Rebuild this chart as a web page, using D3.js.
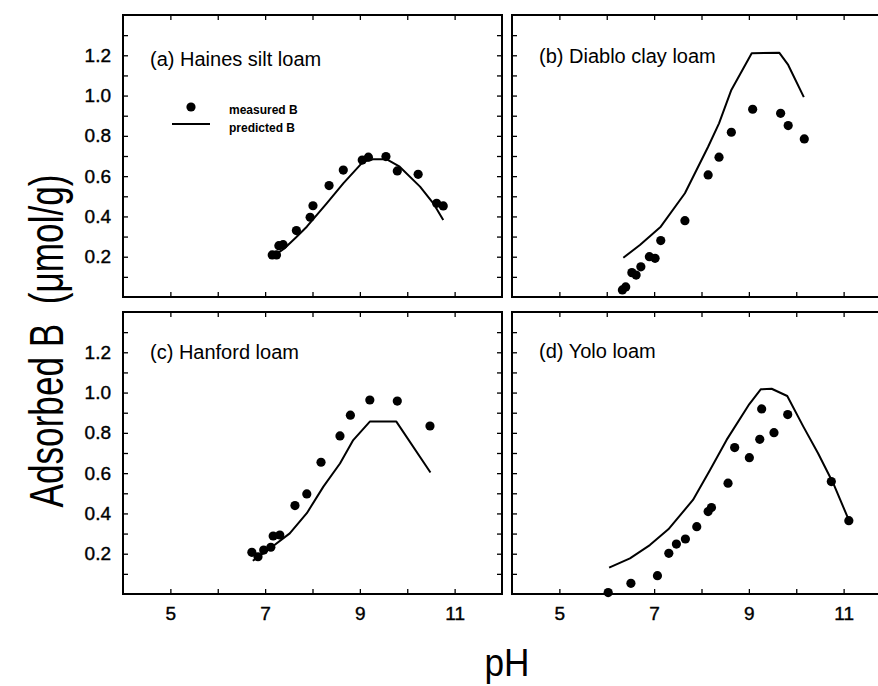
<!DOCTYPE html>
<html>
<head>
<meta charset="utf-8">
<script src="https://cdn.jsdelivr.net/npm/d3@7"></script>
<style>
  body { margin: 0; background: #fff; }
  svg { display: block; font-family: "Liberation Sans", Arial, sans-serif; }
</style>
</head>
<body>
<script>
// boron adsorption vs pH, four soils

// (a) Haines silt loam
var phMeasA = [7.15, 7.24, 7.29, 7.38, 7.66, 7.95, 8.01, 8.35, 8.65, 9.05, 9.18, 9.55, 9.79, 10.23, 10.62, 10.76];
var bMeasA  = [0.209, 0.209, 0.255, 0.26, 0.33, 0.396, 0.453, 0.553, 0.63, 0.68, 0.694, 0.697, 0.626, 0.609, 0.465, 0.452];
var phPredA = [7.14, 7.40, 7.65, 7.88, 8.30, 8.65, 9.07, 9.28, 9.56, 9.84, 10.27, 10.55, 10.76];
var bPredA  = [0.197, 0.24, 0.295, 0.349, 0.465, 0.564, 0.672, 0.684, 0.684, 0.647, 0.548, 0.465, 0.382];

// (b) Diablo clay loam
var phMeasB = [6.33, 6.40, 6.53, 6.62, 6.72, 6.90, 7.02, 7.14, 7.65, 8.14, 8.37, 8.63, 9.08, 9.67, 9.83, 10.17];
var bMeasB  = [0.035, 0.05, 0.121, 0.109, 0.150, 0.200, 0.192, 0.280, 0.379, 0.606, 0.694, 0.818, 0.932, 0.912, 0.851, 0.785];
var phPredB = [6.35, 6.70, 7.14, 7.65, 8.14, 8.37, 8.63, 9.06, 9.64, 9.83, 10.16];
var bPredB  = [0.195, 0.258, 0.349, 0.515, 0.746, 0.862, 1.028, 1.210, 1.213, 1.152, 0.992];

// (c) Hanford loam
var phMeasC = [6.72, 6.85, 6.97, 7.12, 7.17, 7.31, 7.63, 7.88, 8.18, 8.58, 8.80, 9.21, 9.79, 10.48];
var bMeasC  = [0.207, 0.185, 0.218, 0.232, 0.288, 0.293, 0.439, 0.497, 0.654, 0.785, 0.888, 0.963, 0.958, 0.834];
var phPredC = [6.74, 7.17, 7.52, 7.88, 8.23, 8.58, 8.86, 9.21, 9.77, 10.49];
var bPredC  = [0.165, 0.238, 0.301, 0.401, 0.533, 0.648, 0.764, 0.856, 0.856, 0.603];

// (d) Yolo loam
var phMeasD = [6.03, 6.51, 7.07, 7.31, 7.47, 7.66, 7.90, 8.14, 8.21, 8.56, 8.70, 9.01, 9.23, 9.27, 9.53, 9.82, 10.74, 11.11];
var bMeasD  = [0.007, 0.053, 0.091, 0.202, 0.248, 0.273, 0.334, 0.409, 0.429, 0.550, 0.727, 0.677, 0.768, 0.919, 0.801, 0.891, 0.558, 0.364];
var phPredD = [6.05, 6.49, 6.91, 7.30, 7.82, 8.18, 8.53, 9.01, 9.25, 9.48, 9.81, 10.15, 10.46, 10.78, 11.11];
var bPredD  = [0.131, 0.177, 0.243, 0.321, 0.467, 0.616, 0.765, 0.943, 1.016, 1.019, 0.983, 0.831, 0.699, 0.550, 0.367];

var titles = ["(a) Haines silt loam", "(b) Diablo clay loam", "(c) Hanford loam", "(d) Yolo loam"];
var xTicks = [5, 6, 7, 8, 9, 10, 11];
var xLabelTicks = [5, 7, 9, 11];
var yTicks = [0.1, 0.2, 0.3, 0.4, 0.5, 0.6, 0.7, 0.8, 0.9, 1.0, 1.1, 1.2, 1.3];
var yLabelTicks = [0.2, 0.4, 0.6, 0.8, 1.0, 1.2];
var legendLabels = ["measured B", "predicted B"];

var width = 878, height = 686;

var svg = d3.select("body").append("svg")
    .attr("width", width)
    .attr("height", height);

// columns and rows (pixel extents of the frames)
var cols = [[123, 502], [512, 891]];
var rows = [[297, 15], [594, 312]];

var panels = [
  {ph: phMeasA, b: bMeasA, php: phPredA, bp: bPredA, col: 0, row: 0, title: titles[0], ty: 51},
  {ph: phMeasB, b: bMeasB, php: phPredB, bp: bPredB, col: 1, row: 0, title: titles[1], ty: 48},
  {ph: phMeasC, b: bMeasC, php: phPredC, bp: bPredC, col: 0, row: 1, title: titles[2], ty: 47},
  {ph: phMeasD, b: bMeasD, php: phPredD, bp: bPredD, col: 1, row: 1, title: titles[3], ty: 46}
];

panels.forEach(function(p) {
  var x = d3.scaleLinear().domain([4, 12]).range(cols[p.col]);
  var y = d3.scaleLinear().domain([0, 1.4]).range(rows[p.row]);
  var x0 = cols[p.col][0], x1 = cols[p.col][1];
  var y0 = rows[p.row][1], y1 = rows[p.row][0];

  var g = svg.append("g");

  // inward ticks on all four sides
  g.append("g")
      .attr("transform", "translate(0," + y1 + ")")
      .call(d3.axisBottom(x).tickValues(xTicks).tickSizeInner(-5).tickSizeOuter(0)
        .tickPadding(13)
        .tickFormat(function(d) {
          return (p.row == 1 && xLabelTicks.indexOf(d) >= 0) ? d : "";
        }));
  g.append("g")
      .attr("transform", "translate(0," + y0 + ")")
      .call(d3.axisTop(x).tickValues(xTicks).tickSizeInner(-5).tickSizeOuter(0).tickFormat(""));
  g.append("g")
      .attr("transform", "translate(" + x0 + ",0)")
      .call(d3.axisLeft(y).tickValues(yTicks).tickSizeInner(-5).tickSizeOuter(0)
        .tickPadding(12)
        .tickFormat(function(d) {
          var hit = yLabelTicks.some(function(v) { return Math.abs(v - d) < 1e-9; });
          return (p.col == 0 && hit) ? d3.format(".1f")(d) : "";
        }));
  g.append("g")
      .attr("transform", "translate(" + x1 + ",0)")
      .call(d3.axisRight(y).tickValues(yTicks).tickSizeInner(-5).tickSizeOuter(0).tickFormat(""));

  g.selectAll(".domain").remove();
  g.selectAll(".tick line").attr("stroke", "#000").attr("stroke-width", 1.3);
  g.selectAll(".tick text")
      .attr("fill", "#000")
      .attr("stroke", "#000")
      .attr("stroke-width", 0.4)
      .style("font-size", "19px")
      .style("font-family", "'Liberation Sans', Arial, sans-serif");

  // frame
  g.append("rect")
      .attr("x", x0)
      .attr("y", y0)
      .attr("width", x1 - x0)
      .attr("height", y1 - y0)
      .attr("fill", "none")
      .attr("stroke", "#000")
      .attr("stroke-width", 2);

  // predicted line
  var line = d3.line()
      .x(function(d, i) { return x(p.php[i]); })
      .y(function(d, i) { return y(p.bp[i]); });
  g.append("path")
      .datum(p.php)
      .attr("d", line)
      .attr("fill", "none")
      .attr("stroke", "#000")
      .attr("stroke-width", 2)
      .attr("stroke-linejoin", "round");

  // measured points
  g.selectAll(".dot")
      .data(p.ph)
      .enter()
      .append("circle")
      .attr("class", "dot")
      .attr("r", 4.6)
      .attr("cx", function(d) { return x(d); })
      .attr("cy", function(d, i) { return y(p.b[i]); })
      .attr("fill", "#000");

  // panel title
  g.append("text")
      .attr("x", x0 + 27)
      .attr("y", y0 + p.ty)
      .style("font-size", "20px")
      .text(p.title);
});

// legend inside panel (a)
var leg = svg.append("g");
leg.append("circle")
    .attr("cx", 191)
    .attr("cy", 107)
    .attr("r", 4.6)
    .attr("fill", "#000");
leg.append("line")
    .attr("x1", 172)
    .attr("x2", 210)
    .attr("y1", 124)
    .attr("y2", 124)
    .attr("stroke", "#000")
    .attr("stroke-width", 2);
leg.selectAll("text")
    .data(legendLabels)
    .enter()
    .append("text")
    .attr("x", 229)
    .attr("y", function(d, i) { return 114 + i * 18; })
    .style("font-size", "12px")
    .style("font-weight", "bold")
    .text(function(d) { return d; });

// axis titles
svg.append("text")
    .attr("transform", "translate(63,341)rotate(-90)")
    .attr("text-anchor", "middle")
    .attr("textLength", 333)
    .attr("lengthAdjust", "spacingAndGlyphs")
    .style("font-size", "48px")
    .text("Adsorbed B\u00A0 (\u03BCmol/g)");

svg.append("text")
    .attr("x", 507)
    .attr("y", 676)
    .attr("text-anchor", "middle")
    .attr("textLength", 45)
    .attr("lengthAdjust", "spacingAndGlyphs")
    .style("font-size", "38px")
    .text("pH");
</script>
</body>
</html>
